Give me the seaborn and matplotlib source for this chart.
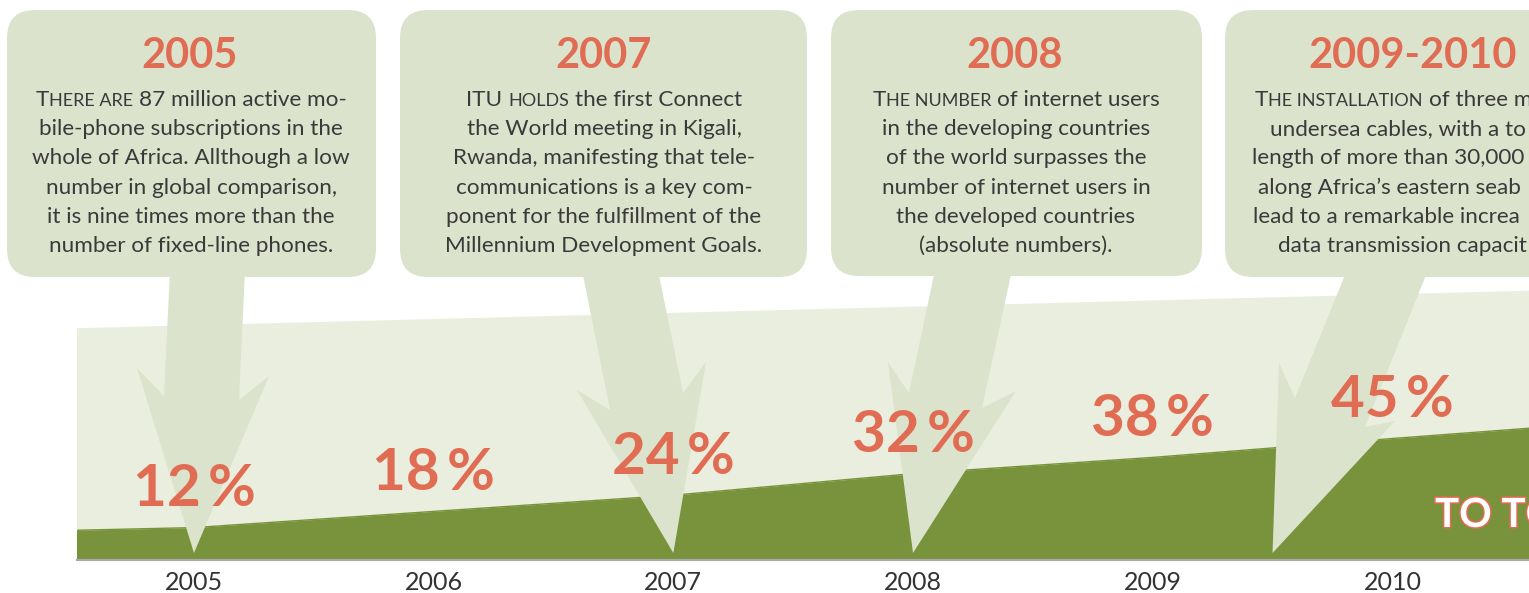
import matplotlib
matplotlib.use("Agg")
import matplotlib.pyplot as plt
import matplotlib.patheffects as pe
from matplotlib.patches import FancyBboxPatch, Polygon
import seaborn as sns

# ---- data -------------------------------------------------------------
years = [2005, 2006, 2007, 2008, 2009, 2010]
share_pct = [12, 18, 24, 32, 38, 45]

# dark area continues a little past the first and last year
edge_years = [2004.5, 2010.6]
edge_pct = [11, 49]

# light background band (top edge)
band_years = [2004.5, 2010.6]
band_top = [86, 100]

callout_titles = ["2005", "2007", "2008", "2009-2010"]
callout_years = [2005, 2007, 2008, 2009.5]
callout_lines = [
    [("T", "HERE ARE", " 87 million active mo-"),
     "bile-phone subscriptions in the",
     "whole of Africa. Allthough a low",
     "number in global comparison,",
     "it is nine times more than the",
     "number of fixed-line phones."],
    [("ITU ", "HOLDS", " the first Connect"),
     "the World meeting in Kigali,",
     "Rwanda, manifesting that tele-",
     "communications is a key com-",
     "ponent for the fulfillment of the",
     "Millennium Development Goals."],
    [("T", "HE NUMBER", " of internet users"),
     "in the developing countries",
     "of the world surpasses the",
     "number of internet users in",
     "the developed countries",
     "(absolute numbers)."],
    [("T", "HE INSTALLATION", " of three m"),
     "undersea cables, with a to",
     "length of more than 30,000",
     "along Africa\u2019s eastern seab",
     "lead to a remarkable increa",
     "data transmission capacit"],
]

# ---- style ------------------------------------------------------------
W, H = 1529, 593
BOX = "#dce3cd"
BAND = "#eaeede"
DARK = "#78933b"
SALMON = "#e06d53"
BODY = "#3a3a3a"

sns.set_theme(style="white")
plt.rcParams["font.family"] = ["Lato", "DejaVu Sans"]

fig = plt.figure(figsize=(W / 100, H / 100), dpi=100)
fig.patch.set_facecolor("white")

# main axes: years x share (%), 0 % sits on the grey base line
ax = fig.add_axes([77 / W, 33 / H, 1 - 77 / W, 1 - 33 / H], zorder=1)
ax.set_xlim(2004.512, 2010.57)
ax.set_ylim(0, 560 / 2.7)

ax.fill_between(band_years, 0, band_top, color=BAND, lw=0)
area_x = [edge_years[0]] + years + [edge_years[1]]
area_y = [edge_pct[0]] + share_pct + [edge_pct[1]]
ax.fill_between(area_x, 0, area_y, color=DARK, lw=0)
sns.lineplot(x=area_x, y=area_y, ax=ax, color=DARK, lw=1, legend=False)

sns.despine(ax=ax, left=True, top=True, right=True)
ax.spines["bottom"].set_color("#aaaaaa")
ax.spines["bottom"].set_linewidth(1.6)
ax.set_xticks(years)
ax.set_xticklabels([str(y) for y in years], fontsize=18, color="#333333")
ax.tick_params(axis="x", length=0, pad=8)
ax.set_yticks([])
ax.set_xlabel("")
ax.set_ylabel("")
ax.grid(False)

# overlay axes in figure pixels (y down) for the callouts
ov = fig.add_axes([0, 0, 1, 1], zorder=2)
ov.set_xlim(0, W)
ov.set_ylim(H, 0)
ov.axis("off")
ov.patch.set_alpha(0)

renderer = fig.canvas.get_renderer()


def to_px(x, y):
    disp = ax.transData.transform((x, y))
    return ov.transData.inverted().transform(disp)


def text_width(s, size, weight="normal"):
    t = ov.text(0, 0, "|" + s + "|", fontsize=size, fontweight=weight)
    w = t.get_window_extent(renderer).width
    t.set_text("||")
    w0 = t.get_window_extent(renderer).width
    t.remove()
    return w - w0


def draw_line(parts, x, y, anchor="center"):
    widths = [text_width(s, sz) for s, sz in parts]
    x0 = x - sum(widths) / 2 if anchor == "center" else x
    for (s, sz), w in zip(parts, widths):
        lead = len(s) - len(s.lstrip())
        shift = text_width(" " * lead, sz) if lead else 0
        ov.text(x0 + shift, y, s.lstrip(), fontsize=sz, color=BODY,
                ha="left", va="baseline", zorder=5)
        x0 += w


# callout layout (pixels)
box_rects = [(7, 10, 369, 267), (400, 10, 407, 267),
             (831, 10, 371, 266), (1225, 10, 420, 267)]
title_x = [190, 604, 1015, 1413]
body_x = [191, 604, 1016, None]
box4_starts = [1255, 1270, 1252, 1258, 1253, 1278]
arrow_shapes = [
    [(170, 270), (164, 396), (137, 368), None, (269, 376), (239, 400), (245, 270)],
    [(582, 270), (610, 410), (577, 390), None, (706, 362), (683, 393), (658, 270)],
    [(935, 270), (909, 393), (888, 362), None, (1016, 391), (982, 408), (1012, 270)],
    [(1347, 270), (1295, 398), (1279, 363), None, (1395, 421), (1365, 427), (1428, 270)],
]
body_size = 16.2
sc_size = body_size * 0.8

for i, (bx, by, bw, bh) in enumerate(box_rects):
    ov.add_patch(FancyBboxPatch((bx, by), bw, bh,
                                boxstyle="round,pad=0,rounding_size=28",
                                fc=BOX, ec="none", zorder=1))
    tip = to_px(callout_years[i], 0)
    pts = [p if p is not None else (tip[0], tip[1] - 7) for p in arrow_shapes[i]]
    ov.add_patch(Polygon(pts, closed=True, fc=BOX, ec="none", zorder=1))

    ov.text(title_x[i], 68, callout_titles[i], fontsize=30, fontweight="bold",
            color=SALMON, ha="center", va="baseline", zorder=5)

    for j, line in enumerate(callout_lines[i]):
        y = 106 + j * 29.2
        if isinstance(line, tuple):
            parts = [(line[0], body_size), (line[1], sc_size), (line[2], body_size)]
        else:
            parts = [(line, body_size)]
        if body_x[i] is None:
            draw_line(parts, box4_starts[j], y, anchor="left")
        else:
            draw_line(parts, body_x[i], y)

# percentage labels above the area
for yr, pct in zip(years, share_pct):
    px, py = to_px(yr, pct)
    ov.text(px, py - 38, f"{pct}\u2009%", fontsize=42, fontweight="bold",
            color=SALMON, ha="center", va="center", zorder=6)

ov.text(1435, 527, "TO TO", fontsize=29, fontweight="bold", color="white",
        ha="left", va="baseline", zorder=6,
        path_effects=[pe.withStroke(linewidth=2.2, foreground=SALMON)])

fig.savefig("out.png", dpi=100)
